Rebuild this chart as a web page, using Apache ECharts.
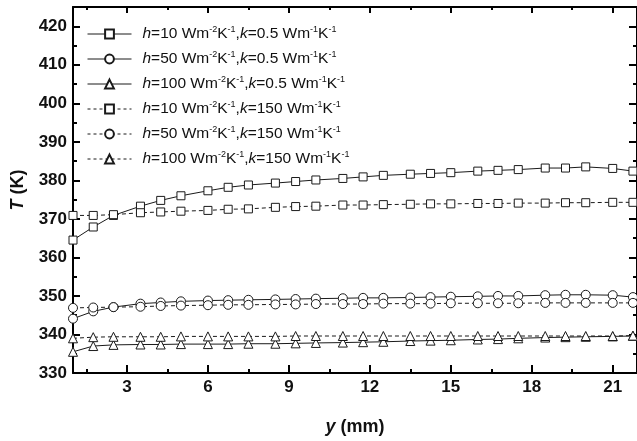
<!DOCTYPE html>
<html>
<head>
<meta charset="utf-8">
<script src="https://cdn.jsdelivr.net/npm/echarts@6/dist/echarts.min.js"></script>
<style>
  html, body { margin: 0; padding: 0; background: #fff; }
  #main { width: 637px; height: 441px; }
</style>
</head>
<body>
<div id="main"></div>
<script>
// y (mm) positions of the markers
var yPos = [1, 1.75, 2.5, 3.5, 4.25, 5, 6, 6.75, 7.5, 8.5, 9.25, 10, 11, 11.75, 12.5, 13.5, 14.25, 15, 16, 16.75, 17.5, 18.5, 19.25, 20, 21, 21.75];

// T (K), k = 0.5
var h10k05 = [364.5, 367.9, 370.9, 373.3, 374.8, 376.0, 377.3, 378.2, 378.8, 379.3, 379.7, 380.1, 380.5, 380.9, 381.3, 381.6, 381.8, 382.0, 382.4, 382.6, 382.8, 383.2, 383.2, 383.5, 383.1, 382.4];
var h50k05 = [344.1, 346.0, 347.1, 348.0, 348.3, 348.6, 348.8, 348.9, 349.0, 349.1, 349.2, 349.3, 349.4, 349.5, 349.5, 349.6, 349.7, 349.8, 349.9, 350.0, 350.0, 350.2, 350.3, 350.3, 350.2, 349.7];
var h100k05 = [335.5, 337.0, 337.3, 337.4, 337.4, 337.5, 337.5, 337.5, 337.6, 337.6, 337.7, 337.8, 337.9, 338.0, 338.1, 338.3, 338.4, 338.5, 338.7, 338.8, 339.0, 339.2, 339.3, 339.4, 339.5, 339.6];
// T (K), k = 150
var h10k150 = [370.9, 370.9, 371.1, 371.6, 371.8, 372.0, 372.2, 372.5, 372.6, 373.0, 373.2, 373.3, 373.6, 373.6, 373.7, 373.8, 373.9, 373.9, 374.0, 374.0, 374.1, 374.1, 374.2, 374.2, 374.3, 374.3];
var h50k150 = [346.9, 347.0, 347.1, 347.2, 347.4, 347.5, 347.6, 347.7, 347.7, 347.8, 347.8, 347.9, 347.9, 347.9, 348.0, 348.0, 348.0, 348.1, 348.1, 348.1, 348.1, 348.2, 348.2, 348.2, 348.2, 348.2];
var h100k150 = [339.0, 339.3, 339.4, 339.4, 339.4, 339.5, 339.5, 339.5, 339.5, 339.5, 339.6, 339.6, 339.6, 339.6, 339.6, 339.6, 339.6, 339.6, 339.6, 339.6, 339.6, 339.6, 339.6, 339.6, 339.6, 339.7];

var xMajor = [3, 6, 9, 12, 15, 18, 21];
var xMinor = [1.5, 4.5, 7.5, 10.5, 13.5, 16.5, 19.5];

var legendText = {
    s1: '{i|h}=10 Wm{s|-2}K{s|-1},{i|k}=0.5 Wm{s|-1}K{s|-1}',
    s2: '{i|h}=50 Wm{s|-2}K{s|-1},{i|k}=0.5 Wm{s|-1}K{s|-1}',
    s3: '{i|h}=100 Wm{s|-2}K{s|-1},{i|k}=0.5 Wm{s|-1}K{s|-1}',
    s4: '{i|h}=10 Wm{s|-2}K{s|-1},{i|k}=150 Wm{s|-1}K{s|-1}',
    s5: '{i|h}=50 Wm{s|-2}K{s|-1},{i|k}=150 Wm{s|-1}K{s|-1}',
    s6: '{i|h}=100 Wm{s|-2}K{s|-1},{i|k}=150 Wm{s|-1}K{s|-1}'
};

var myChart = echarts.init(document.getElementById('main'), null, { renderer: 'canvas' });

function pairs(vals) {
    var out = [];
    for (var i = 0; i < yPos.length; i++) {
        out.push([yPos[i], vals[i]]);
    }
    return out;
}

function makeSeries(name, vals, symbol, size, dashed) {
    return {
        name: name,
        type: 'line',
        data: pairs(vals),
        symbol: symbol,
        symbolSize: size,
        showAllSymbol: true,
        lineStyle: { color: '#1a1a1a', width: 1, type: dashed ? [4, 3] : 'solid' },
        itemStyle: { color: '#fff', borderColor: '#1a1a1a', borderWidth: 1 },
        emphasis: { disabled: true },
        z: 3
    };
}

function legendItem(name, dashed) {
    return {
        name: name,
        lineStyle: { color: '#1a1a1a', width: 1, type: dashed ? [3, 3] : 'solid' }
    };
}

var font = '"Liberation Sans", Arial, sans-serif';

var xBase = {
    type: 'value', min: 1, max: 21.9, gridIndex: 0,
    splitLine: { show: false }
};

var option = {
    backgroundColor: '#fff',
    animation: false,
    grid: { left: 73, right: 0, top: 7, bottom: 61 },
    legend: {
        orient: 'vertical',
        left: 87,
        top: 25,
        padding: 0,
        itemWidth: 44,
        itemHeight: 11,
        itemGap: 8,
        data: [legendItem('s1', false), legendItem('s2', false), legendItem('s3', false),
               legendItem('s4', true), legendItem('s5', true), legendItem('s6', true)],
        formatter: function(name) { return legendText[name]; },
        textStyle: {
            fontFamily: font, fontSize: 15.5, color: '#111', padding: [0, 0, 0, 6],
            rich: {
                i: { fontFamily: font, fontSize: 15.5, fontStyle: 'italic', color: '#111' },
                s: { fontFamily: font, fontSize: 9, color: '#111', padding: [0, 0, 9, 0] }
            }
        }
    },
    xAxis: [
        Object.assign({}, xBase, {
            position: 'bottom',
            name: '{i|y} (mm)',
            nameLocation: 'middle',
            nameGap: 45,
            nameTextStyle: {
                fontFamily: font, fontSize: 18, fontWeight: 'bold', color: '#111',
                rich: { i: { fontFamily: font, fontSize: 18, fontWeight: 'bold', fontStyle: 'italic', color: '#111' } }
            },
            axisLine: { lineStyle: { color: '#000', width: 2 } },
            axisTick: { inside: true, length: 8, lineStyle: { color: '#000', width: 2 }, customValues: xMajor },
            axisLabel: { customValues: xMajor, margin: 6, fontFamily: font, fontSize: 17, fontWeight: 'bold', color: '#111' }
        }),
        Object.assign({}, xBase, {
            position: 'bottom',
            axisLine: { show: false },
            axisTick: { inside: true, length: 4, lineStyle: { color: '#000', width: 2 }, customValues: xMinor },
            axisLabel: { show: false }
        }),
        Object.assign({}, xBase, {
            position: 'top',
            axisLine: { lineStyle: { color: '#000', width: 2 } },
            axisTick: { inside: true, length: 6, lineStyle: { color: '#000', width: 2 }, customValues: xMajor },
            axisLabel: { show: false }
        }),
        Object.assign({}, xBase, {
            position: 'top',
            axisLine: { show: false },
            axisTick: { inside: true, length: 3, lineStyle: { color: '#000', width: 2 }, customValues: xMinor },
            axisLabel: { show: false }
        })
    ],
    yAxis: [
        {
            type: 'value', min: 330, max: 425, interval: 10,
            position: 'left',
            name: '{i|T} (K)',
            nameLocation: 'middle',
            nameGap: 46,
            nameTextStyle: {
                fontFamily: font, fontSize: 18, fontWeight: 'bold', color: '#111',
                rich: { i: { fontFamily: font, fontSize: 18, fontWeight: 'bold', fontStyle: 'italic', color: '#111' } }
            },
            splitLine: { show: false },
            axisLine: { show: true, lineStyle: { color: '#000', width: 2 } },
            axisTick: { inside: true, length: 7, lineStyle: { color: '#000', width: 2 } },
            minorTick: { show: true, splitNumber: 2, length: 4, lineStyle: { color: '#000', width: 2 } },
            axisLabel: { showMaxLabel: false, margin: 6, fontFamily: font, fontSize: 17, fontWeight: 'bold', color: '#111' }
        },
        {
            type: 'value', min: 330, max: 425, interval: 10,
            position: 'right',
            splitLine: { show: false },
            axisLine: { show: true, lineStyle: { color: '#000', width: 2 } },
            axisTick: { inside: true, length: 8, lineStyle: { color: '#000', width: 2 } },
            minorTick: { show: true, splitNumber: 2, length: 4, lineStyle: { color: '#000', width: 2 } },
            axisLabel: { show: false }
        }
    ],
    series: [
        makeSeries('s1', h10k05, 'rect', 8, false),
        makeSeries('s2', h50k05, 'circle', 9, false),
        makeSeries('s3', h100k05, 'triangle', 9, false),
        makeSeries('s4', h10k150, 'rect', 8, true),
        makeSeries('s5', h50k150, 'circle', 9, true),
        makeSeries('s6', h100k150, 'triangle', 9, true)
    ]
};

myChart.setOption(option);
</script>
</body>
</html>
